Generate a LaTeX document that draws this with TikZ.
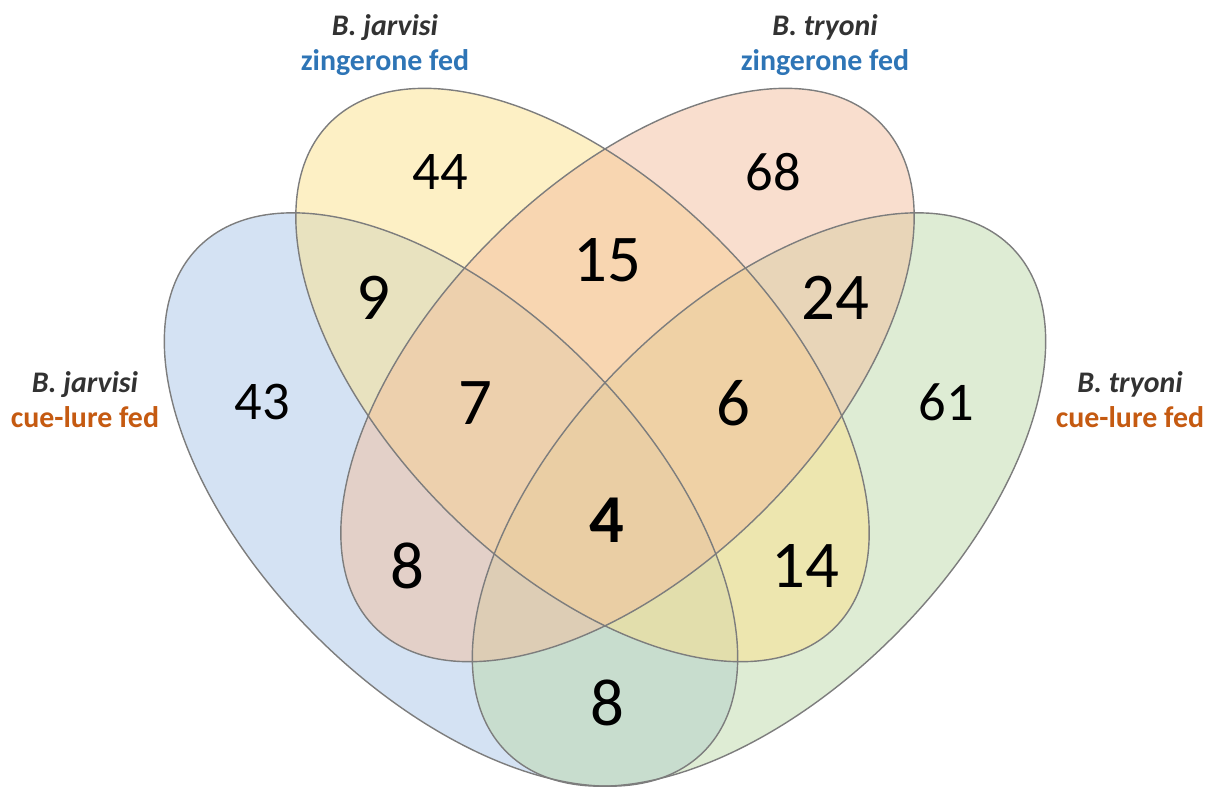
\documentclass[tikz,border=0pt]{standalone}
\usepackage{fontspec}
\setmainfont{Carlito}
\definecolor{cBlue}{RGB}{169,198,232}
\definecolor{cYellow}{RGB}{252,225,140}
\definecolor{cOrange}{RGB}{243,190,157}
\definecolor{cGreen}{RGB}{189,217,169}
\definecolor{cEdge}{RGB}{125,125,125}
\definecolor{labBlue}{RGB}{46,117,182}
\definecolor{labOrange}{RGB}{197,90,17}
\definecolor{labGray}{RGB}{50,50,50}
\tikzset{
  setfill/.style={fill=#1, fill opacity=0.5},
  setedge/.style={draw=cEdge, line width=0.4pt},
  numsmall/.style={font=\fontsize{15.5}{18}\selectfont, text=black, inner sep=0pt},
  numbig/.style={font=\fontsize{19}{22}\selectfont, text=black, inner sep=0pt},
  numbold/.style={font=\fontsize{19.5}{22}\selectfont\bfseries, text=black, inner sep=0pt},
  setlabel/.style={font=\fontsize{8.5}{10}\selectfont\bfseries, align=center, inner sep=0pt, text=labGray}
}
\begin{document}
\begin{tikzpicture}
\useasboundingbox (0,0) rectangle (12.09,-7.87);
% centres
\coordinate (cB) at (4.51,-4.995);
\coordinate (cY) at (5.825,-3.75);
\coordinate (cO) at (6.275,-3.75);
\coordinate (cG) at (7.59,-4.995);
% fills
\fill[setfill=cBlue, rotate around={-45:(cB)}] (cB) ellipse [x radius=3.57cm, y radius=1.92cm];
\fill[setfill=cGreen, rotate around={45:(cG)}] (cG) ellipse [x radius=3.57cm, y radius=1.92cm];
\fill[setfill=cYellow, rotate around={-45:(cY)}] (cY) ellipse [x radius=3.57cm, y radius=1.92cm];
\fill[setfill=cOrange, rotate around={45:(cO)}] (cO) ellipse [x radius=3.57cm, y radius=1.92cm];
% edges
\draw[setedge, rotate around={-45:(cB)}] (cB) ellipse [x radius=3.57cm, y radius=1.92cm];
\draw[setedge, rotate around={45:(cG)}] (cG) ellipse [x radius=3.57cm, y radius=1.92cm];
\draw[setedge, rotate around={-45:(cY)}] (cY) ellipse [x radius=3.57cm, y radius=1.92cm];
\draw[setedge, rotate around={45:(cO)}] (cO) ellipse [x radius=3.57cm, y radius=1.92cm];
% set labels
\node[setlabel] (labJZ) at (3.85,-0.45) {\textit{B. jarvisi}\\\textcolor{labBlue}{zingerone fed}};
\node[setlabel] (labTZ) at (8.25,-0.45) {\textit{B. tryoni}\\\textcolor{labBlue}{zingerone fed}};
\node[setlabel] (labJC) at (0.85,-4.0) {\textit{B. jarvisi}\\\textcolor{labOrange}{cue-lure fed}};
\node[setlabel] (labTC) at (11.30,-4.0) {\textit{B. tryoni}\\\textcolor{labOrange}{cue-lure fed}};
% counts
\node[numsmall] (n44) at (4.40,-1.72) {44};
\node[numsmall] (n68) at (7.73,-1.72) {68};
\node[numsmall] (n43) at (2.62,-4.02) {43};
\node[numsmall] (n61) at (9.46,-4.02) {61};
\node[numbig] (n15) at (6.07,-2.60) {15};
\node[numbig] (n9) at (3.73,-2.98) {9};
\node[numbig] (n24) at (8.35,-2.98) {24};
\node[numbig] (n7) at (4.75,-4.03) {7};
\node[numbig] (n6) at (7.33,-4.03) {6};
\node[numbold] (n4) at (6.07,-5.20) {4};
\node[numbig] (n8a) at (4.07,-5.66) {8};
\node[numbig] (n14) at (8.05,-5.66) {14};
\node[numbig] (n8b) at (6.07,-7.03) {8};
\end{tikzpicture}
\end{document}
